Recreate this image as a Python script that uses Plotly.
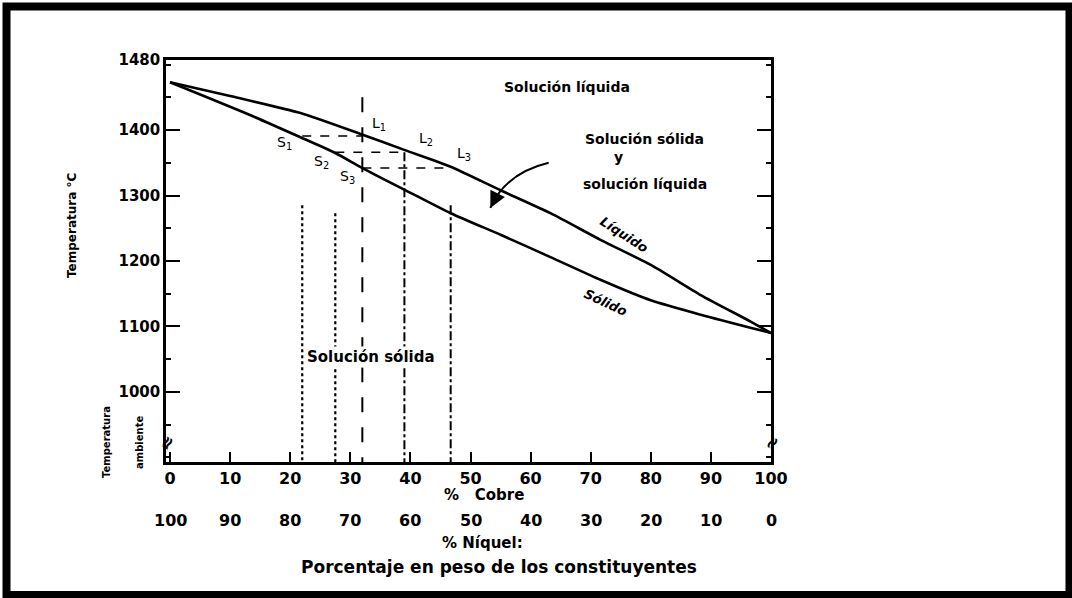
import plotly.graph_objects as go

# ---------------- data ----------------
cobre_ticks = [0, 10, 20, 30, 40, 50, 60, 70, 80, 90, 100]
niquel_labels = ["100", "90", "80", "70", "60", "50", "40", "30", "20", "10", "0"]
temp_ticks = [1000, 1100, 1200, 1300, 1400, 1507]
temp_tick_text = ["1000", "1100", "1200", "1300", "1400", "1480"]

liquidus_cu = [0, 10, 21.7, 31.7, 39.2, 46.7, 55, 63.3, 71.7, 80, 88.3, 96.7, 100]
liquidus_T = [1473, 1452, 1426, 1394, 1369, 1344, 1308, 1273, 1232, 1194, 1148, 1107, 1090]

solidus_cu = [0, 13.3, 21.7, 27.5, 32, 39.2, 46.7, 55, 63.3, 71.7, 80, 88.3, 100]
solidus_T = [1473, 1423, 1389, 1365, 1342, 1308, 1273, 1240, 1206, 1171, 1140, 1118, 1090]

# tie-line construction (composition %Cu, temperature)
tie_cu_start = [22, 27.5, 32]
tie_cu_end = [32, 39, 46.7]
tie_T = [1391, 1366, 1342]

vert_cu = [22, 27.5, 32, 39, 46.7]
vert_T_top = [1285, 1273, 1450, 1366, 1285]
vert_dash = ["dot", "dot", "longdash", "dashdot", "dashdot"]

point_labels = ["S<sub>1</sub>", "S<sub>2</sub>", "S<sub>3</sub>", "L<sub>1</sub>", "L<sub>2</sub>", "L<sub>3</sub>"]
point_label_cu = [19.0, 25.2, 29.6, 34.8, 42.6, 48.9]
point_label_T = [1381, 1351, 1329, 1409, 1386, 1363]

# curved arrow into the two-phase region: start, control, tip (%Cu, T)
arrow_cu = [63.0, 55.8, 53.3]
arrow_T = [1350, 1334, 1281]

T_MIN, T_MAX = 893, 1507
X_MIN, X_MAX = -0.67, 100

# ---------------- figure ----------------
W, H = 1072, 598
fig = go.Figure()

line_col = "black"
fig.add_trace(go.Scatter(x=liquidus_cu, y=liquidus_T, mode="lines",
                         line=dict(color=line_col, width=2.6, shape="spline", smoothing=0.6),
                         hoverinfo="skip", showlegend=False))
fig.add_trace(go.Scatter(x=solidus_cu, y=solidus_T, mode="lines",
                         line=dict(color=line_col, width=2.6, shape="spline", smoothing=0.6),
                         hoverinfo="skip", showlegend=False))

for xs, xe, t in zip(tie_cu_start, tie_cu_end, tie_T):
    fig.add_trace(go.Scatter(x=[xs, xe], y=[t, t], mode="lines",
                             line=dict(color=line_col, width=1.6, dash="dash"),
                             hoverinfo="skip", showlegend=False))

for xv, tt, d in zip(vert_cu, vert_T_top, vert_dash):
    fig.add_trace(go.Scatter(x=[xv, xv], y=[tt, T_MIN], mode="lines",
                             line=dict(color=line_col, width=2 if d != "dot" else 2.2, dash=d),
                             hoverinfo="skip", showlegend=False))

FONT = "DejaVu Sans"


def A(**kw):
    kw.setdefault("showarrow", False)
    kw.setdefault("xanchor", "center")
    kw.setdefault("yanchor", "middle")
    return kw


ann = []
for txt, xc, tc in zip(point_labels, point_label_cu, point_label_T):
    ann.append(A(x=xc, y=tc, xref="x", yref="y", text=txt,
                 font=dict(family=FONT, size=14, color="black")))

ann += [
    A(x=66.0, y=1466, xref="x", yref="y", text="<b>Solución líquida</b>",
      font=dict(family=FONT, size=14, color="black")),
    A(x=79.0, y=1386, xref="x", yref="y", text="<b>Solución sólida</b>",
      font=dict(family=FONT, size=14, color="black")),
    A(x=74.6, y=1359, xref="x", yref="y", text="<b>y</b>",
      font=dict(family=FONT, size=14, color="black")),
    A(x=79.0, y=1317, xref="x", yref="y", text="<b>solución líquida</b>",
      font=dict(family=FONT, size=14, color="black")),
    A(x=75.5, y=1240, xref="x", yref="y", text="<b><i>Líquido</i></b>", textangle=33,
      font=dict(family=FONT, size=13, color="black")),
    A(x=72.5, y=1137, xref="x", yref="y", text="<b><i>Sólido</i></b>", textangle=25,
      font=dict(family=FONT, size=13, color="black")),
    A(x=33.5, y=1053, xref="x", yref="y", text="<b>Solución sólida</b>",
      bgcolor="white", font=dict(family=FONT, size=15, color="black")),
    # axis titles
    A(x=72 / W, y=1 - 226 / H, xref="paper", yref="paper", text="<b>Temperatura °C</b>",
      textangle=-90, font=dict(family=FONT, size=12, color="black")),
    A(x=107 / W, y=1 - 442 / H, xref="paper", yref="paper", text="<b>Temperatura</b>",
      textangle=-90, font=dict(family=FONT, size=10, color="black")),
    A(x=140 / W, y=1 - 443 / H, xref="paper", yref="paper", text="<b>ambiente</b>",
      textangle=-90, font=dict(family=FONT, size=10, color="black")),
    A(x=484 / W, y=1 - 495 / H, xref="paper", yref="paper", text="<b>%   Cobre</b>",
      font=dict(family=FONT, size=15, color="black")),
    A(x=482 / W, y=1 - 543 / H, xref="paper", yref="paper", text="<b>% Níquel:</b>",
      font=dict(family=FONT, size=15, color="black")),
    A(x=499 / W, y=1 - 567 / H, xref="paper", yref="paper",
      text="<b>Porcentaje en peso de los constituyentes</b>",
      font=dict(family=FONT, size=17, color="black")),
    # axis break marks
    A(x=X_MIN, y=922, xref="x", yref="y", text="<b>≈</b>", textangle=-60,
      font=dict(family=FONT, size=18, color="black")),
    A(x=X_MAX, y=922, xref="x", yref="y", text="<b>≈</b>", textangle=-60,
      font=dict(family=FONT, size=18, color="black")),
    # arrow head at the end of the curved arrow
    dict(x=arrow_cu[2], y=arrow_T[2], xref="x", yref="y", ax=5, ay=-10, axref="pixel", ayref="pixel",
         text="", showarrow=True, arrowhead=2, arrowsize=1.3, arrowwidth=2.5, arrowcolor="black"),
]

# nickel scale labels under the copper scale
for xc, lab in zip(cobre_ticks, niquel_labels):
    ann.append(A(x=xc, y=1 - 520 / H, xref="x", yref="paper", text="<b>" + lab + "</b>",
                 font=dict(family=FONT, size=16, color="black")))

arrow_path = "M {},{} Q {},{} {},{}".format(arrow_cu[0], arrow_T[0], arrow_cu[1], arrow_T[1],
                                             arrow_cu[2], arrow_T[2])

fig.update_layout(
    width=W, height=H, autosize=False,
    margin=dict(l=0, r=0, t=0, b=0, pad=0, autoexpand=False),
    paper_bgcolor="white", plot_bgcolor="white",
    annotations=ann,
    xaxis=dict(domain=[166 / W, 771 / W], range=[X_MIN, X_MAX], automargin=False,
               tickvals=cobre_ticks, ticktext=["<b>%d</b>" % v for v in cobre_ticks],
               ticks="inside", ticklen=10, tickwidth=2, tickcolor="black",
               showline=True, linewidth=2.5, linecolor="black", mirror=True,
               showgrid=False, zeroline=False,
               tickfont=dict(family=FONT, size=16, color="black")),
    yaxis=dict(domain=[1 - 462 / H, 1 - 60 / H], range=[T_MIN, T_MAX], automargin=False,
               tickvals=temp_ticks, ticktext=["<b>%s</b>" % t for t in temp_tick_text],
               ticks="inside", ticklen=14, tickwidth=2, tickcolor="black",
               minor=dict(ticks="inside", ticklen=5, tickwidth=1.5, dtick=50, tickcolor="black"),
               showline=True, linewidth=2.5, linecolor="black", mirror="ticks",
               showgrid=False, zeroline=False,
               tickfont=dict(family=FONT, size=15, color="black")),
    shapes=[
        dict(type="rect", xref="paper", yref="paper",
             x0=6.5 / W, x1=1069.5 / W, y0=1 - 595 / H, y1=1 - 6.5 / H,
             line=dict(color="black", width=8), fillcolor="rgba(0,0,0,0)"),
        dict(type="path", xref="x", yref="y", path=arrow_path,
             line=dict(color="black", width=2), fillcolor="rgba(0,0,0,0)"),
    ],
)

fig.write_html("out.html", config={"displayModeBar": False},
               post_script="document.body.style.margin='0px';document.body.style.overflow='hidden';")
